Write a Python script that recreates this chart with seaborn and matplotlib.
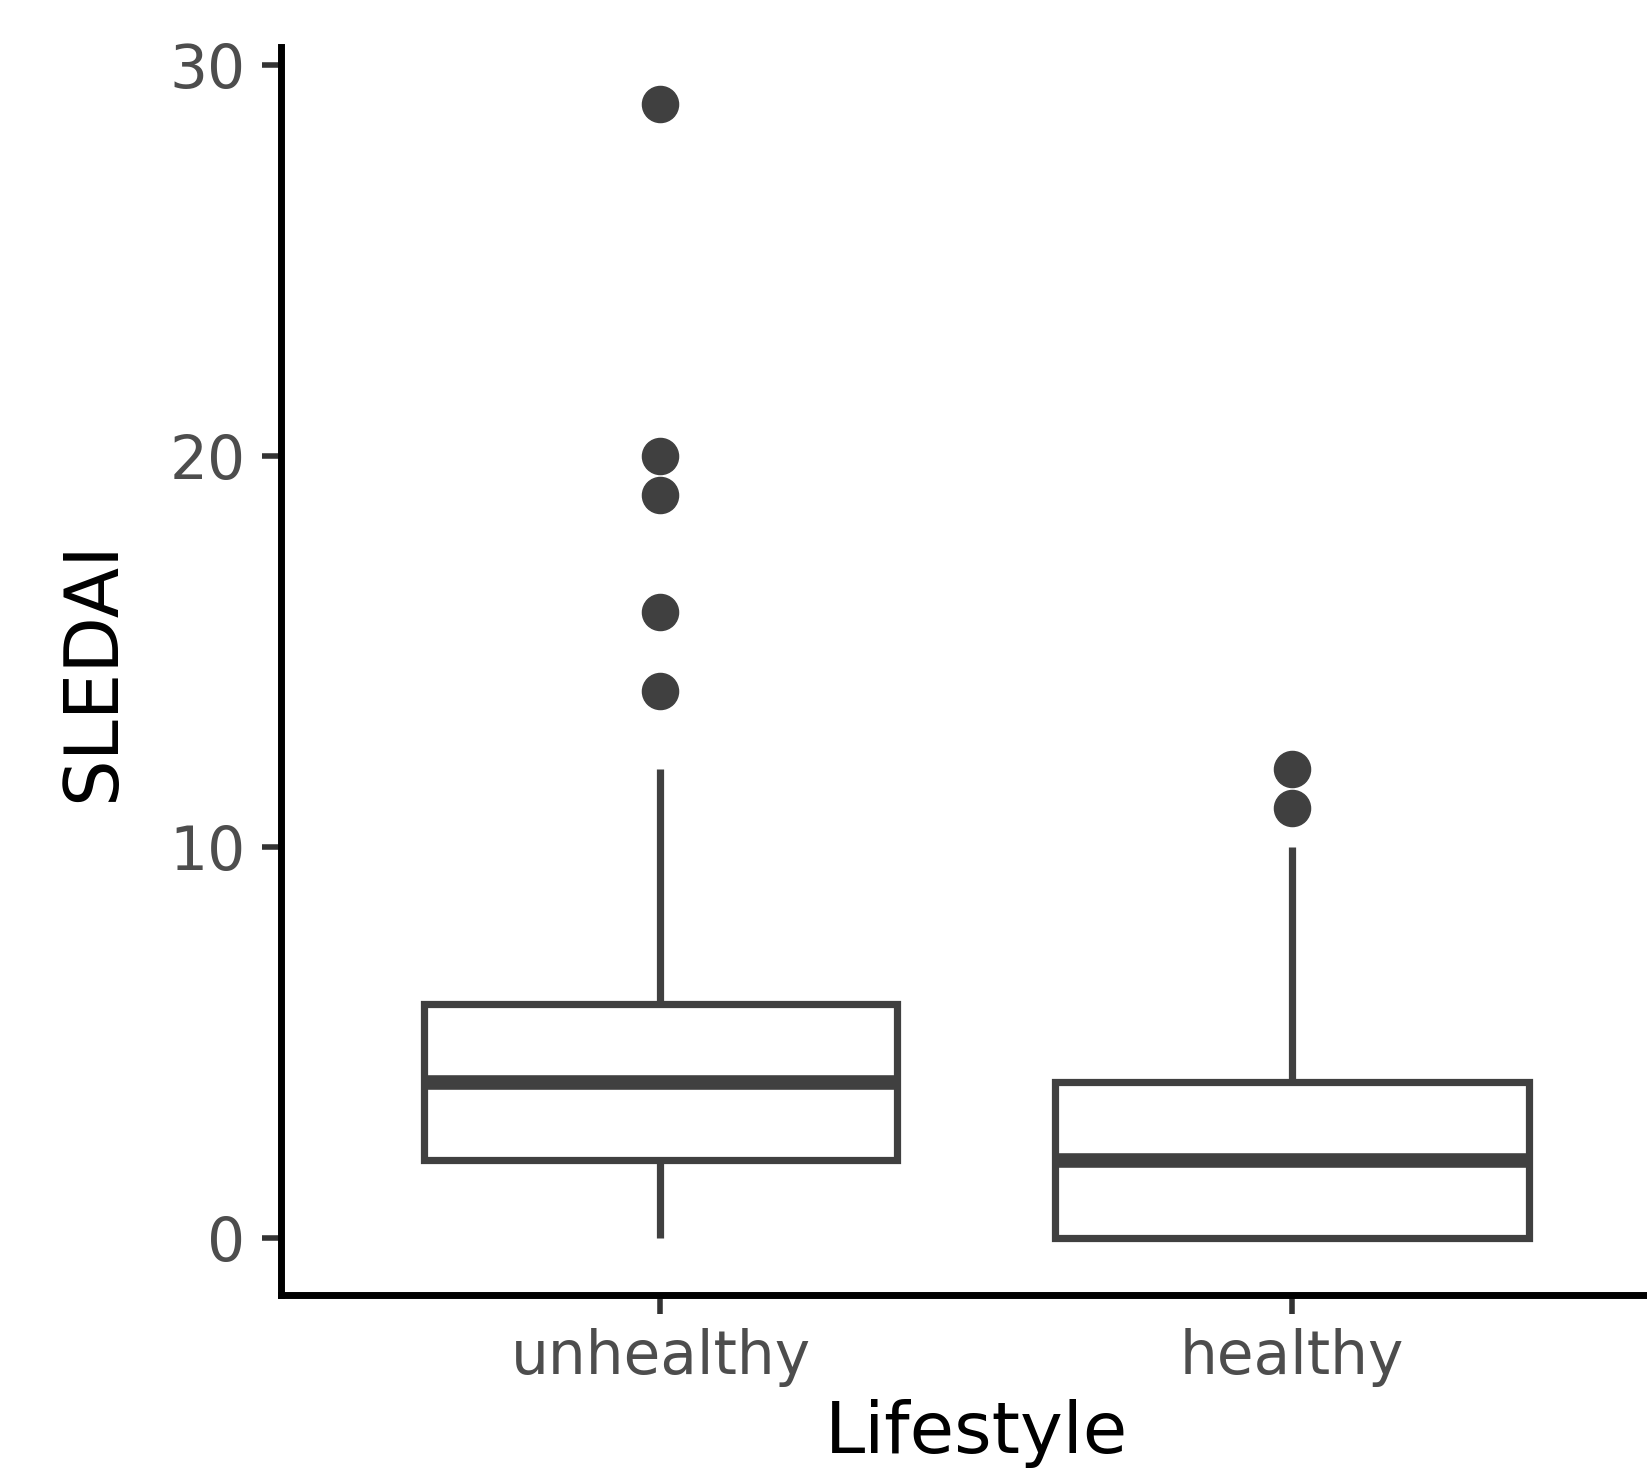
import matplotlib
matplotlib.use('Agg')
import matplotlib.pyplot as plt
import pandas as pd
import seaborn as sns

# SLEDAI por estilo de vida
grupos = ['unhealthy', 'healthy']

sledai_unhealthy = [0, 0, 1, 1, 1, 2, 2, 2, 2, 2, 2,
                    2, 3, 3, 3, 3, 4, 4, 4, 4, 4,
                    4, 4, 5, 5, 5, 5, 6, 6, 6, 6,
                    7, 8, 9, 10, 12,
                    14, 16, 19, 20, 29]

sledai_healthy = [0, 0, 0, 0, 0, 0, 0, 0, 0, 0, 0,
                  0, 0, 1, 1, 1, 1, 2, 2, 2, 2,
                  2, 2, 3, 3, 3, 3, 4, 4, 4, 4,
                  5, 5, 6, 6, 7, 8, 9, 10,
                  11, 12]

yticks = [0, 10, 20, 30]

df = pd.DataFrame({
    'Lifestyle': ['unhealthy'] * len(sledai_unhealthy) + ['healthy'] * len(sledai_healthy),
    'SLEDAI': sledai_unhealthy + sledai_healthy,
})

sns.set_style('ticks')
plt.rcParams['font.family'] = ['DejaVu Sans']

cor = '#404040'

fig = plt.figure(figsize=(16.47, 14.73), dpi=100)
ax = fig.add_axes([0.1709, 0.1208, 0.8437, 0.8473])

sns.boxplot(data=df, x='Lifestyle', y='SLEDAI', order=grupos, ax=ax,
            color='white', linecolor=cor, linewidth=5.2, width=0.75,
            showcaps=False, whis=1.5,
            medianprops={'linewidth': 10.5, 'color': cor},
            flierprops={'marker': 'o', 'markersize': 26,
                        'markerfacecolor': cor, 'markeredgecolor': cor})

ax.set_xlim(-0.6, 1.6)
ax.set_ylim(-1.45, 30.45)
ax.set_yticks(yticks)

sns.despine(ax=ax)
for s in ['left', 'bottom']:
    ax.spines[s].set_linewidth(5)
    ax.spines[s].set_color('black')

ax.tick_params(axis='both', length=14, width=4, color='#333333',
               labelsize=43, labelcolor='#4D4D4D')
ax.tick_params(axis='y', pad=12)
ax.tick_params(axis='x', pad=10)

ax.set_xlabel('Lifestyle', fontsize=52, color='black', labelpad=8)
ax.set_ylabel('SLEDAI', fontsize=53, color='black', labelpad=28)

fig.savefig('out.png', dpi=100)
